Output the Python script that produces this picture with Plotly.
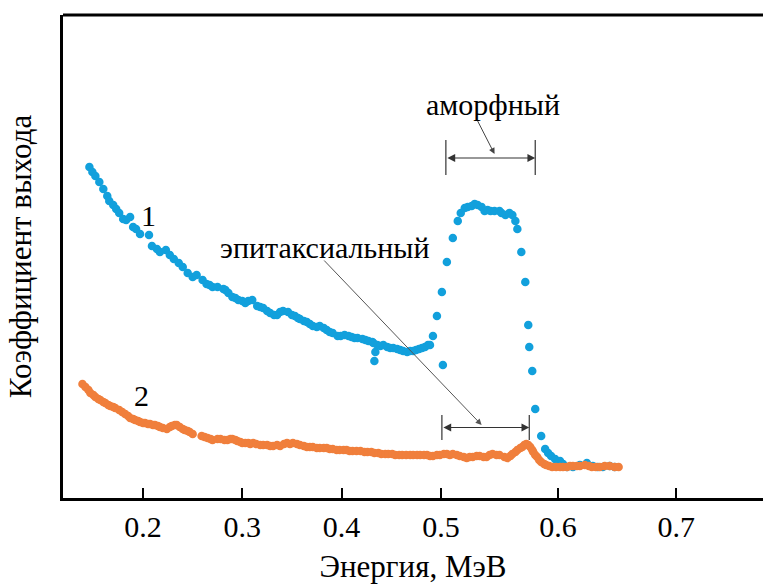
import plotly.graph_objects as go

# Series 1 (blue) — energy (axis units) and yield (arb. units)
energy_1 = [0.146, 0.149, 0.152, 0.156, 0.160, 0.164, 0.166, 0.170, 0.173, 0.176, 0.180, 0.183,
            0.187, 0.190, 0.193, 0.197, 0.206, 0.209, 0.214, 0.217, 0.223, 0.227, 0.231, 0.236,
            0.240, 0.245, 0.250, 0.254, 0.260, 0.264, 0.267, 0.270, 0.275, 0.281, 0.283, 0.286,
            0.290, 0.293, 0.296, 0.300, 0.303, 0.306, 0.310, 0.315, 0.318, 0.321, 0.325, 0.328,
            0.332, 0.335, 0.338, 0.341, 0.346, 0.350, 0.353, 0.356, 0.358, 0.362, 0.365, 0.368,
            0.371, 0.375, 0.378, 0.382, 0.385, 0.388, 0.391, 0.396, 0.399, 0.403, 0.407, 0.410,
            0.413, 0.416, 0.421, 0.424, 0.427, 0.431, 0.432, 0.434, 0.433, 0.436, 0.439, 0.442,
            0.446, 0.449, 0.452, 0.456, 0.459, 0.462, 0.466, 0.469, 0.472, 0.475, 0.478, 0.481,
            0.484, 0.487, 0.489, 0.492, 0.496, 0.501, 0.502, 0.506, 0.512, 0.517, 0.520, 0.524,
            0.527, 0.531, 0.534, 0.537, 0.541, 0.544, 0.547, 0.550, 0.554, 0.559, 0.561, 0.565,
            0.569, 0.572, 0.575, 0.577, 0.581, 0.585, 0.588, 0.589, 0.592, 0.595, 0.601, 0.605,
            0.608, 0.611, 0.615, 0.620, 0.623, 0.627, 0.633, 0.640, 0.647, 0.653, 0.658, 0.663,
            0.670, 0.675]
yield_1 = [3.31, 3.26, 3.22, 3.16, 3.09, 3.02, 2.97, 2.93, 2.89, 2.85, 2.79, 2.78,
           2.81, 2.71, 2.69, 2.64, 2.63, 2.52, 2.49, 2.46, 2.48, 2.43, 2.39, 2.35,
           2.31, 2.25, 2.21, 2.23, 2.18, 2.14, 2.13, 2.11, 2.11, 2.09, 2.08, 2.05,
           2.01, 2.00, 1.98, 1.97, 1.95, 1.97, 1.98, 1.92, 1.91, 1.90, 1.87, 1.85,
           1.83, 1.83, 1.86, 1.87, 1.86, 1.83, 1.82, 1.80, 1.79, 1.77, 1.76, 1.74,
           1.72, 1.71, 1.72, 1.70, 1.68, 1.66, 1.65, 1.62, 1.62, 1.63, 1.62, 1.61,
           1.60, 1.60, 1.59, 1.58, 1.57, 1.56, 1.55, 1.46, 1.37, 1.53, 1.52, 1.53,
           1.51, 1.50, 1.50, 1.49, 1.48, 1.47, 1.46, 1.47, 1.47, 1.48, 1.49, 1.50,
           1.51, 1.53, 1.53, 1.62, 1.82, 2.06, 1.33, 2.36, 2.60, 2.77, 2.85, 2.90,
           2.91, 2.92, 2.94, 2.93, 2.91, 2.87, 2.88, 2.87, 2.87, 2.87, 2.85, 2.83,
           2.85, 2.83, 2.77, 2.69, 2.46, 2.16, 1.73, 1.51, 1.27, 0.89, 0.62, 0.49,
           0.45, 0.42, 0.39, 0.37, 0.34, 0.31, 0.31, 0.33, 0.35, 0.32, 0.31, 0.31,
           0.32, 0.31]

# Series 2 (orange)
energy_2 = [0.139, 0.142, 0.145, 0.147, 0.150, 0.152, 0.155, 0.157, 0.160, 0.162, 0.165, 0.167,
            0.170, 0.172, 0.176, 0.179, 0.182, 0.185, 0.187, 0.190, 0.192, 0.195, 0.197, 0.200,
            0.202, 0.205, 0.207, 0.210, 0.212, 0.215, 0.217, 0.220, 0.224, 0.227, 0.229, 0.232,
            0.234, 0.237, 0.240, 0.242, 0.245, 0.247, 0.250, 0.259, 0.262, 0.265, 0.268, 0.270,
            0.275, 0.278, 0.282, 0.285, 0.288, 0.290, 0.293, 0.295, 0.298, 0.300, 0.303, 0.306,
            0.308, 0.311, 0.314, 0.318, 0.321, 0.325, 0.328, 0.331, 0.335, 0.338, 0.342, 0.345,
            0.348, 0.351, 0.355, 0.358, 0.362, 0.365, 0.368, 0.371, 0.375, 0.378, 0.382, 0.385,
            0.388, 0.391, 0.395, 0.398, 0.402, 0.405, 0.408, 0.411, 0.415, 0.419, 0.423, 0.426,
            0.430, 0.433, 0.437, 0.440, 0.444, 0.447, 0.451, 0.454, 0.458, 0.461, 0.465, 0.469,
            0.472, 0.476, 0.479, 0.483, 0.486, 0.489, 0.492, 0.496, 0.499, 0.503, 0.506, 0.509,
            0.512, 0.516, 0.519, 0.523, 0.526, 0.529, 0.532, 0.536, 0.539, 0.543, 0.546, 0.549,
            0.552, 0.556, 0.559, 0.564, 0.567, 0.570, 0.572, 0.575, 0.577, 0.580, 0.582, 0.584,
            0.586, 0.588, 0.590, 0.592, 0.593, 0.595, 0.597, 0.599, 0.601, 0.604, 0.606, 0.609,
            0.612, 0.616, 0.620, 0.623, 0.627, 0.630, 0.633, 0.637, 0.640, 0.645, 0.649, 0.652,
            0.656, 0.660, 0.665, 0.670, 0.675, 0.679]
yield_2 = [1.14, 1.11, 1.08, 1.05, 1.03, 1.01, 0.99, 0.98, 0.96, 0.95, 0.93, 0.92,
           0.91, 0.90, 0.88, 0.86, 0.84, 0.82, 0.80, 0.79, 0.78, 0.77, 0.76, 0.75,
           0.75, 0.74, 0.74, 0.73, 0.73, 0.72, 0.71, 0.70, 0.69, 0.71, 0.72, 0.73,
           0.73, 0.71, 0.69, 0.68, 0.67, 0.66, 0.64, 0.62, 0.61, 0.60, 0.59, 0.58,
           0.59, 0.59, 0.58, 0.58, 0.59, 0.59, 0.58, 0.57, 0.56, 0.55, 0.55, 0.55,
           0.54, 0.55, 0.54, 0.53, 0.53, 0.53, 0.52, 0.52, 0.53, 0.52, 0.54, 0.55,
           0.54, 0.55, 0.54, 0.53, 0.52, 0.51, 0.51, 0.51, 0.50, 0.50, 0.50, 0.50,
           0.49, 0.49, 0.48, 0.48, 0.48, 0.48, 0.47, 0.47, 0.47, 0.47, 0.46, 0.46,
           0.46, 0.45, 0.45, 0.44, 0.44, 0.44, 0.44, 0.43, 0.43, 0.43, 0.43, 0.43,
           0.43, 0.43, 0.43, 0.43, 0.43, 0.42, 0.42, 0.43, 0.43, 0.44, 0.44, 0.43,
           0.44, 0.43, 0.42, 0.41, 0.40, 0.41, 0.41, 0.42, 0.42, 0.41, 0.41, 0.43,
           0.44, 0.43, 0.43, 0.41, 0.40, 0.42, 0.44, 0.46, 0.48, 0.50, 0.51, 0.53,
           0.54, 0.53, 0.51, 0.48, 0.46, 0.43, 0.41, 0.38, 0.36, 0.34, 0.33, 0.32,
           0.31, 0.31, 0.31, 0.31, 0.31, 0.32, 0.32, 0.32, 0.32, 0.33, 0.32, 0.31,
           0.31, 0.31, 0.32, 0.32, 0.31, 0.31]

tick_vals = [0.2, 0.3, 0.4, 0.5, 0.618, 0.737]
tick_text = ["0.2", "0.3", "0.4", "0.5", "0.6", "0.7"]

# Annotation anchors (data units)
amorph_range = [0.505, 0.595]
epi_range = [0.501, 0.589]

FONT = "Liberation Serif"
BLUE = "#12a0dc"
ORANGE = "#f07f3c"

fig = go.Figure()
fig.add_trace(go.Scatter(x=energy_1, y=yield_1, mode="markers",
                         marker=dict(size=8.5, color=BLUE, line=dict(width=0)), showlegend=False))
fig.add_trace(go.Scatter(x=energy_2, y=yield_2, mode="markers",
                         marker=dict(size=8.5, color=ORANGE, line=dict(width=0)), showlegend=False))

shapes = []
# top frame line
shapes.append(dict(type="line", xref="paper", yref="paper", x0=0, x1=1, y0=1, y1=1,
                   line=dict(color="black", width=3)))
# bracket ticks
for xv in amorph_range:
    shapes.append(dict(type="line", xref="x", yref="y", x0=xv, x1=xv, y0=3.23, y1=3.58,
                       line=dict(color="#333", width=1.2)))
for xv in epi_range:
    shapes.append(dict(type="line", xref="x", yref="y", x0=xv, x1=xv, y0=0.58, y1=0.83,
                       line=dict(color="#333", width=1.2)))

annotations = []
# double-headed arrows
annotations.append(dict(x=amorph_range[1], y=3.40, ax=amorph_range[0], ay=3.40,
                        xref="x", yref="y", axref="x", ayref="y", text="", showarrow=True,
                        arrowhead=2, startarrowhead=2, arrowside="end+start", arrowsize=1.3,
                        arrowwidth=1.2, arrowcolor="#333"))
annotations.append(dict(x=epi_range[1], y=0.705, ax=epi_range[0], ay=0.705,
                        xref="x", yref="y", axref="x", ayref="y", text="", showarrow=True,
                        arrowhead=2, startarrowhead=2, arrowside="end+start", arrowsize=1.3,
                        arrowwidth=1.2, arrowcolor="#333"))
# leader arrows
annotations.append(dict(x=0.554, y=3.44, ax=0.536, ay=3.79,
                        xref="x", yref="y", axref="x", ayref="y", text="", showarrow=True,
                        arrowhead=2, arrowsize=1.2, arrowwidth=1.0, arrowcolor="#444"))
annotations.append(dict(x=0.541, y=0.73, ax=0.381, ay=2.39,
                        xref="x", yref="y", axref="x", ayref="y", text="", showarrow=True,
                        arrowhead=2, arrowsize=1.2, arrowwidth=1.0, arrowcolor="#555"))
# labels
for txt, xv, yv in [("аморфный", 0.552, 3.94), ("эпитаксиальный", 0.383, 2.51),
                    ("1", 0.206, 2.83), ("2", 0.198, 1.03)]:
    annotations.append(dict(x=xv, y=yv, xref="x", yref="y", text=txt, showarrow=False,
                            font=dict(family=FONT, size=30, color="black"),
                            xanchor="center", yanchor="middle"))

fig.update_layout(
    width=763, height=584,
    margin=dict(l=63, r=0, t=15, b=86),
    plot_bgcolor="white", paper_bgcolor="white",
    font=dict(family=FONT, color="black"),
    shapes=shapes, annotations=annotations,
    xaxis=dict(range=[0.1194, 0.8244], showgrid=False, zeroline=False,
               showline=True, linecolor="black", linewidth=3,
               ticks="inside", ticklen=10, tickwidth=2, tickcolor="black",
               tickvals=tick_vals, ticktext=tick_text,
               tickfont=dict(family=FONT, size=30, color="black"),
               title=dict(text="Энергия, МэВ", font=dict(family=FONT, size=31, color="black"),
                          standoff=16)),
    yaxis=dict(range=[0, 4.83], showgrid=False, zeroline=False,
               showline=True, linecolor="black", linewidth=3,
               ticks="", showticklabels=False,
               title=dict(text="Коэффициент выхода", font=dict(family=FONT, size=31, color="black"),
                          standoff=20)),
)

fig.write_html("out.html")
